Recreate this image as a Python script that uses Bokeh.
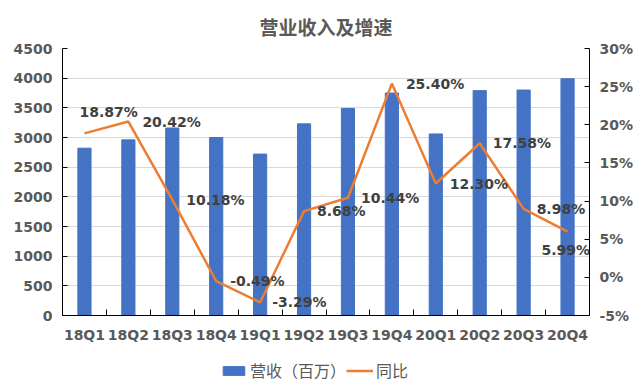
from bokeh.plotting import figure
from bokeh.layouts import column
from bokeh.models import (ColumnDataSource, Range1d, LinearAxis, FixedTicker,
                          PrintfTickFormatter, Legend, LegendItem)
from bokeh.embed import file_html
from bokeh.resources import INLINE
from bokeh.core.properties import value

# ---- data ----
quarters = ["18Q1", "18Q2", "18Q3", "18Q4", "19Q1", "19Q2",
            "19Q3", "19Q4", "20Q1", "20Q2", "20Q3", "20Q4"]
revenue = [2820, 2960, 3160, 3000, 2720, 3230, 3490, 3750, 3060, 3790, 3800, 3990]
yoy = [18.87, 20.42, 10.18, -0.49, -3.29, 8.68, 10.44, 25.40, 12.30, 17.58, 8.98, 5.99]
yoy_labels = ["%.2f%%" % v for v in yoy]
left_ticks = [0, 500, 1000, 1500, 2000, 2500, 3000, 3500, 4000, 4500]
right_ticks = [-5, 0, 5, 10, 15, 20, 25, 30]
series_names = ["营收（百万）", "同比"]
title_text = "营业收入及增速"

# label offsets (style only)
lab_dx = [-5, 14, 14, 14, 12, 13, 13, 14, 14, 13, 13, -26]
lab_dy = [-21, 0, 0, 0, 0, 0, 0, 0, 0, 0, 0, 18]

CJK = "Noto Sans CJK SC"
NUM = "DejaVu Sans"
GREY = "#595959"
BLUE = "#4472C4"
ORANGE = "#ED7D31"
W = 636

n = len(quarters)
xs = [i + 0.5 for i in range(n)]
src = ColumnDataSource(dict(x=xs, rev=revenue, yoy=yoy, lab=yoy_labels,
                            dx=lab_dx, dy=lab_dy))

p = figure(width=W, height=348, output_backend="svg", toolbar_location=None,
           x_range=Range1d(0, n), y_range=Range1d(0, 4500),
           min_border_left=62, min_border_right=44, min_border_top=48,
           min_border_bottom=33)
p.outline_line_color = None
p.background_fill_color = "white"
p.border_fill_color = "white"

p.title.text = title_text
p.title.align = "center"
p.title.text_font = CJK
p.title.text_font_size = "19px"
p.title.text_font_style = "bold"
p.title.text_color = GREY
p.title.standoff = 17

p.extra_y_ranges = {"pct": Range1d(-5, 30)}

bars = p.vbar(x="x", top="rev", width=0.3, source=src, color=BLUE)
line = p.line(x="x", y="yoy", source=src, y_range_name="pct",
              line_color=ORANGE, line_width=2.5)
p.text(x="x", y="yoy", text="lab", source=src, y_range_name="pct",
       x_offset="dx", y_offset="dy", text_align="left", text_baseline="middle",
       text_font=value(NUM), text_font_size="14px", text_font_style="bold",
       text_color="#404040")

# grid
p.xgrid.visible = False
p.ygrid.ticker = FixedTicker(ticks=left_ticks)
p.ygrid.grid_line_color = "#D9D9D9"

def style_axis(ax):
    ax.axis_line_color = "black"
    ax.axis_line_width = 1
    ax.major_label_text_font = NUM
    ax.major_label_text_font_size = "14px"
    ax.major_label_text_font_style = "bold"
    ax.major_label_text_color = GREY
    ax.major_tick_line_color = "black"
    ax.minor_tick_line_color = "black"

# x axis
xa = p.xaxis[0]
style_axis(xa)
xa.ticker = FixedTicker(ticks=xs, minor_ticks=list(range(n + 1)))
xa.major_label_overrides = {x: q for x, q in zip(xs, quarters)}
xa.major_tick_in = 0
xa.major_tick_out = 0
xa.minor_tick_in = 6
xa.minor_tick_out = 0
xa.major_label_standoff = 11

# left axis
ya = p.yaxis[0]
style_axis(ya)
ya.ticker = FixedTicker(ticks=left_ticks)
ya.major_tick_in = 5
ya.major_tick_out = 0
ya.minor_tick_line_color = None
ya.major_label_standoff = 10

# right axis
ra = LinearAxis(y_range_name="pct", ticker=FixedTicker(ticks=right_ticks),
                formatter=PrintfTickFormatter(format="%d%%"))
style_axis(ra)
ra.major_tick_in = 5
ra.major_tick_out = 0
ra.minor_tick_line_color = None
ra.major_label_standoff = 10
p.add_layout(ra, "right")

# legend strip (separate small figure below the chart; its swatch renderers
# are zero-size so only the legend shows)
lg = figure(width=W, height=34, output_backend="svg", toolbar_location=None,
            x_axis_type=None, y_axis_type=None, min_border=0,
            x_range=Range1d(0, 1), y_range=Range1d(0, 1))
lg.outline_line_color = None
lg.xgrid.visible = False
lg.ygrid.visible = False
lb = lg.vbar(x=[0], top=[0], bottom=[0], width=0, color=BLUE)
ll = lg.line(x=[0], y=[0], line_color=ORANGE, line_width=2.5)
legend = Legend(items=[LegendItem(label=series_names[0], renderers=[lb]),
                       LegendItem(label=series_names[1], renderers=[ll])],
                orientation="horizontal", location=(158, 0))
legend.label_text_font = CJK
legend.label_text_font_size = "16px"
legend.label_text_color = GREY
legend.glyph_width = 27
legend.glyph_height = 11
legend.spacing = 0
legend.label_standoff = 3
legend.border_line_color = None
legend.background_fill_alpha = 0
legend.padding = 2
legend.margin = 0
lg.add_layout(legend, "center")

layout = column(p, lg, spacing=0)
open("out.html", "w").write(file_html(layout, INLINE))
